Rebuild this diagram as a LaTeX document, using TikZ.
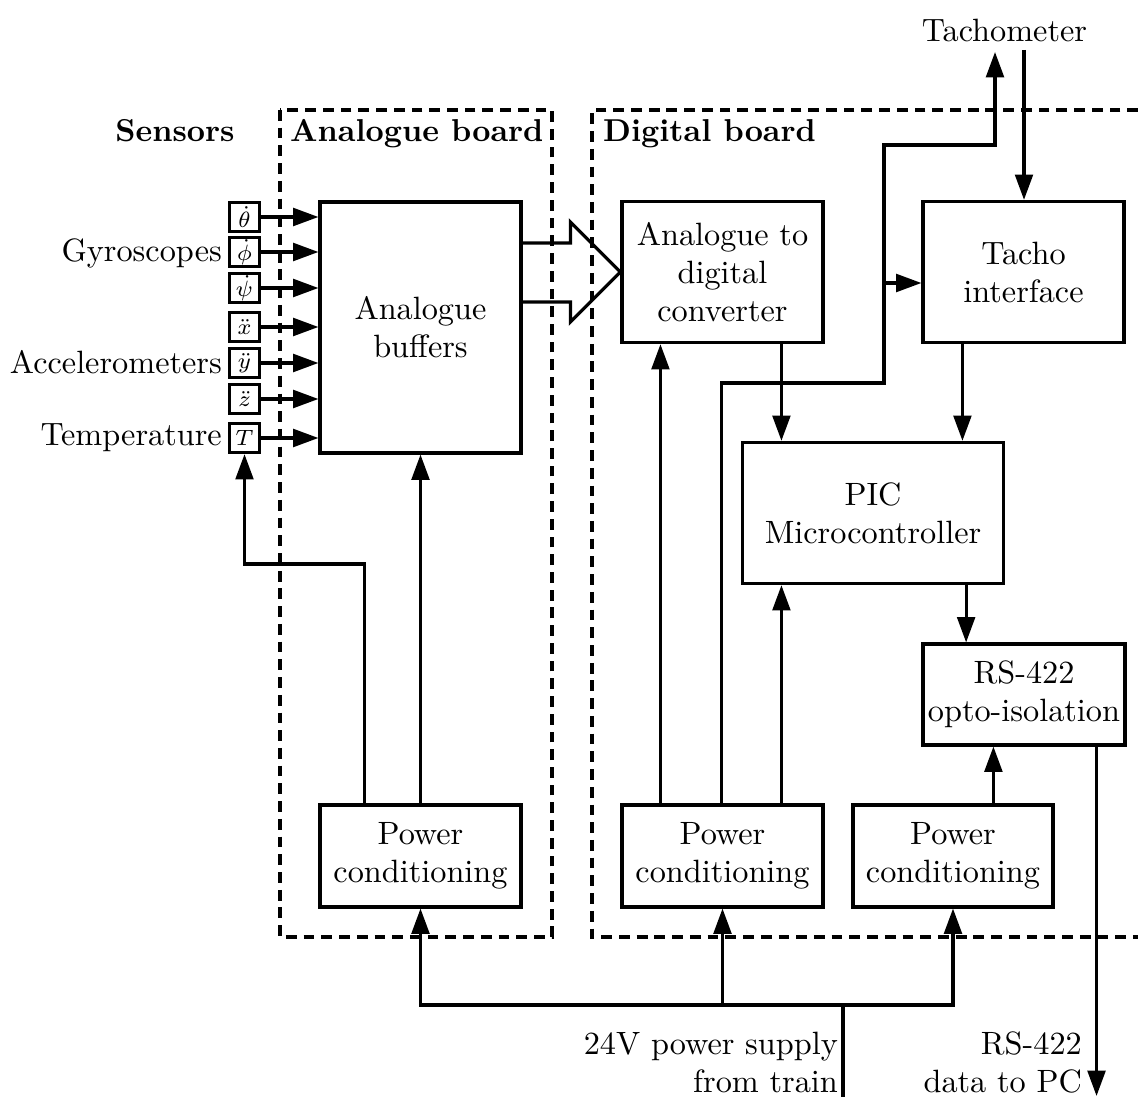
\documentclass[tikz,border=0pt]{standalone}
\usetikzlibrary{arrows.meta,calc}
\begin{document}
\begin{tikzpicture}[x=0.316pt,y=-0.316pt,
 font=\fontsize{10.2pt}{12pt}\selectfont,
 line/.style={line width=1pt},
 arr/.style={line width=1pt,-{Triangle[length=8pt,width=5.6pt]}},
 blk/.style={draw,line width=1pt,inner sep=0pt,align=center,minimum width=63.5pt},
 sbox/.style={draw,line width=1pt,inner sep=0pt,minimum width=9.5pt,minimum height=9.2pt,font=\scriptsize},
 board/.style={dash pattern=on 3.4pt off 2.2pt, line width=1pt},
 lbl/.style={font=\fontsize{10pt}{12pt}\selectfont\bfseries,anchor=base west}]
\useasboundingbox (0,0) rectangle (1138,1097);

% boards
\draw[board] (280,110) rectangle (552,937);
\draw[board] (1138,110) -- (592,110) -- (592,937) -- (1138,937);
\node[lbl,anchor=base] (lsens) at (175,142) {Sensors};
\node[lbl] (lana) at (279,142) {Analogue board};
\node[lbl] (ldig) at (592,142) {Digital board};

% blocks
\node[blk,minimum height=79.3pt] (buf) at (420.5,327.5) {Analogue\\buffers};
\node[blk,minimum height=44.6pt] (adc) at (722.5,272) {Analogue to\\digital\\converter};
\node[blk,minimum height=44.6pt] (tacho) at (1023.5,272) {Tacho\\interface};
\node[blk,minimum width=82.5pt,minimum height=44.6pt] (pic) at (873,513) {PIC\\Microcontroller};
\node[blk,minimum width=63.8pt,minimum height=31.9pt] (rs) at (1024,694.5) {RS-422\\opto-isolation};
\node[blk,minimum height=32.2pt] (pw1) at (420.5,856) {Power\\conditioning};
\node[blk,minimum height=32.2pt] (pw2) at (722.5,856) {Power\\conditioning};
\node[blk,minimum width=63.2pt,minimum height=32.2pt] (pw3) at (953,856) {Power\\conditioning};

% sensors
\node[sbox] (s1) at (244.5,217) {$\dot\theta$};
\node[sbox] (s2) at (244.5,252) {$\dot\phi$};
\node[sbox] (s3) at (244.5,288) {$\dot\psi$};
\node[sbox] (s4) at (244.5,327) {$\ddot x$};
\node[sbox] (s5) at (244.5,363) {$\ddot y$};
\node[sbox] (s6) at (244.5,399) {$\ddot z$};
\node[sbox] (s7) at (244.5,438) {$T$};
\foreach \s in {s1,s2,s3,s4,s5,s6,s7}
  \draw[arr] (\s.east) -- (\s.east -| buf.west);

\node[anchor=east] (lgyro) at (233,253) {Gyroscopes};
\node[anchor=east] (lacc) at (233,362) {Accelerometers};
\node[anchor=east] (ltemp) at (233,438) {Temperature};

% big arrow
\draw[line,line join=miter]
  ($(adc.west -| buf.east)+(0,-29)$) -- ($(adc.west)+(-50,-29)$) -- ($(adc.west)+(-50,-50)$)
  -- (adc.west) -- ($(adc.west)+(-50,50)$) -- ($(adc.west)+(-50,30)$) -- ($(adc.west -| buf.east)+(0,30)$);

% analogue power
\draw[arr] (pw1.north) -- (buf.south);
\coordinate (c1) at (244.5,564);
\draw[arr] ($(pw1.north west)+(46,0)$) |- (c1) -- (s7.south);

% digital power 2
\draw[arr] ($(pw2.north west)+(40,0)$) coordinate (a1) -- (a1 |- adc.south);
\draw[arr] ($(pw2.north west)+(161,0)$) coordinate (a2) -- (a2 |- pic.south);
\draw[arr] ($(adc.south west)+(161,0)$) coordinate (a3) -- (a3 |- pic.north);
\coordinate (c2) at (884,383);
\coordinate (c3) at (995,145);
\coordinate (tu) at (995,52);
\draw[arr] ($(pw2.north west)+(101,0)$) |- (c2) |- (c3) -- (tu);
\coordinate (br) at (884,283);
\draw[arr] (br) -- (br -| tacho.west);

% tachometer
\node (tach) at (1004.5,30) {Tachometer};
\coordinate (td) at (1024,50);
\draw[arr] (td) -- (td |- tacho.north);
\draw[arr] ($(tacho.south west)+(41,0)$) coordinate (t1) -- (t1 |- pic.north);
\draw[arr] ($(pic.south east)+(-39,0)$) coordinate (p1) -- (p1 |- rs.north);
\draw[arr] ($(pw3.north west)+(142,0)$) coordinate (p3) -- (p3 |- rs.south);
\coordinate (out) at (1095,1096);
\draw[arr] ($(rs.south east)+(-30,0)$) coordinate (r1) -- (r1 |- out);
\node[anchor=east,align=right] (lout) at (1093,1062) {RS-422\\data to PC};

% supply
\coordinate (sup) at (843,1097);
\coordinate (bus) at (843,1005);
\draw[line] (sup) -- (bus);
\draw[arr] (bus) -| (pw3.south);
\draw[arr] (bus) -| (pw1.south);
\draw[arr] (pw2.south |- bus) -- (pw2.south);
\node[anchor=east,align=right] (lsup) at (849,1062) {24V power supply\\from train};
\end{tikzpicture}
\end{document}
